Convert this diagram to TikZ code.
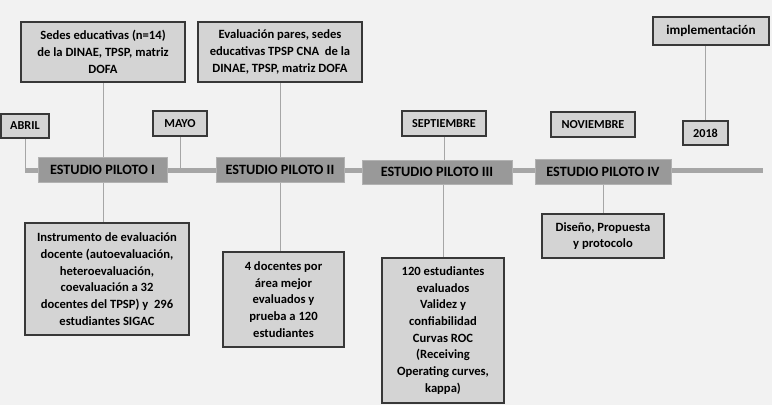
\documentclass[tikz,border=0pt]{standalone}
\usepackage{fontspec}
\setmainfont{Carlito}
\usetikzlibrary{backgrounds}
\begin{document}
\begin{tikzpicture}[x=1pt,y=1pt,
  lbox/.style={draw=black!78, line width=1.3pt, fill=black!17, align=center, inner sep=0pt,
    text=black, font=\bfseries\fontsize{12.6}{16.7}\selectfont},
  mbox/.style={lbox, font=\bfseries\fontsize{12.2}{14}\selectfont},
  ebox/.style={draw=black!30, line width=0.6pt, fill=black!40, inner sep=0pt,
    text=black, font=\bfseries\fontsize{14.2}{16}\selectfont},
  conn/.style={draw=black!35, line width=1pt},
  tline/.style={draw=black!35, line width=5pt}]
\useasboundingbox (0,0) rectangle (772,405);
\begin{pgfonlayer}{background}
\fill[black!5] (0,0) rectangle (772,405);
\end{pgfonlayer}

\coordinate (barL) at (25,234);
\coordinate (barR) at (763,234);

% month / year labels
\node[mbox, minimum width=48, minimum height=24] (abril) at (25,279) {ABRIL};
\node[mbox, minimum width=54, minimum height=25] (mayo) at (180,281.5) {MAYO};
\node[mbox, minimum width=84, minimum height=25] (sept) at (444,281.5) {SEPTIEMBRE};
\node[mbox, minimum width=84, minimum height=25] (nov) at (593,280.5) {NOVIEMBRE};
\node[mbox, minimum width=45, minimum height=24] (y2018) at (705.5,272) {2018};
\node[lbox, font=\bfseries\fontsize{13.2}{15}\selectfont, minimum width=116, minimum height=28] (impl) at (711,374) {implementación};

% top boxes
\node[lbox, minimum width=164, minimum height=60] (sedes) at (103,353)
  {Sedes educativas (n=14)\\de la DINAE, TPSP, matriz\\DOFA};
\node[lbox, minimum width=164, minimum height=60] (pares) at (280,353)
  {Evaluación pares, sedes\\educativas TPSP CNA\ \ de la\\DINAE, TPSP, matriz DOFA};

% studies
\node[ebox, minimum width=129, minimum height=25] (ep1) at (102.5,235.5) {ESTUDIO PILOTO I};
\node[ebox, minimum width=128, minimum height=25] (ep2) at (280,235.5) {ESTUDIO PILOTO II};
\node[ebox, minimum width=150, minimum height=24] (ep3) at (437,233) {ESTUDIO PILOTO III};
\node[ebox, minimum width=136, minimum height=25] (ep4) at (603,233.5) {ESTUDIO PILOTO IV};

% bottom boxes
\node[lbox, minimum width=164, minimum height=112] (instr) at (107,126)
  {Instrumento de evaluación\\docente (autoevaluación,\\heteroevaluación,\\coevaluación a 32\\docentes del TPSP) y\ \ 296\\estudiantes SIGAC};
\node[lbox, minimum width=121, minimum height=95] (doc) at (283.5,105.5)
  {4 docentes por\\área mejor\\evaluados y\\prueba a 120\\estudiantes};
\node[lbox, minimum width=122, minimum height=145] (est) at (443,74.5)
  {120 estudiantes\\evaluados\\Validez y\\confiabilidad\\Curvas ROC\\(Receiving\\Operating curves,\\kappa)};
\node[lbox, minimum width=122, minimum height=44] (dis) at (603,169)
  {Diseño, Propuesta\\y protocolo};

\begin{pgfonlayer}{background}
\draw[tline] (barL) -- (barR);
\draw[conn] (abril.south) -- (abril.south |- barL);
\draw[conn] (mayo.south) -- (mayo.south |- barL);
\draw[conn] (sedes.south) -- (sedes.south |- instr.north);
\draw[conn] (pares.south) -- (pares.south |- doc.north);
\draw[conn] (sept.south) -- (sept.south |- ep3.north);
\draw[conn] (est.north) -- (est.north |- ep3.south);
\draw[conn] (dis.north) -- (dis.north |- ep4.south);
\draw[conn] (y2018.north) -- (y2018.north |- impl.south);
\end{pgfonlayer}
\end{tikzpicture}
\end{document}
